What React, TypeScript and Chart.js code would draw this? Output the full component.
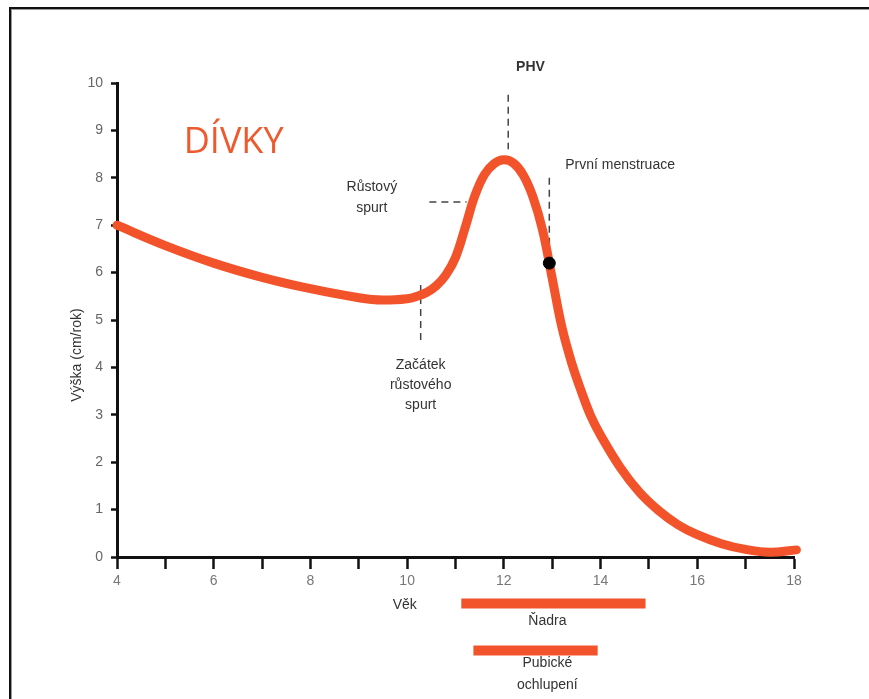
import React, { useEffect, useRef } from "react";
import { Chart, registerables } from "chart.js";

Chart.register(...registerables);

// Growth velocity curve (girls)
const ages = [4, 5, 6, 7, 8, 9, 9.5, 10, 10.2, 10.4, 10.6, 10.8, 11.0, 11.2, 11.4, 11.6, 11.8, 12.0, 12.2, 12.4, 12.6, 12.8, 13.0, 13.2, 13.4, 13.6, 13.8, 14.0, 14.4, 14.8, 15.2, 15.6, 16.0, 16.5, 17.0, 17.5, 18.05];
const rates = [7.0, 6.57, 6.2, 5.9, 5.66, 5.47, 5.42, 5.45, 5.5, 5.58, 5.72, 5.95, 6.32, 6.95, 7.62, 8.07, 8.3, 8.38, 8.31, 8.06, 7.6, 6.9, 5.88, 4.85, 4.1, 3.5, 2.97, 2.57, 1.9, 1.37, 0.98, 0.68, 0.47, 0.28, 0.16, 0.1, 0.15];

// Menarche marker
const menarche = { x: 12.94, y: 6.2 };

// Dashed guide lines [x1, y1, x2, y2]
const phvLine = [12.09, 9.75, 12.09, 8.6];
const spurtLine = [10.46, 7.49, 11.23, 7.49];
const menarcheLine = [12.94, 8.0, 12.94, 6.55];
const onsetLine = [10.28, 5.74, 10.28, 4.47];

// Development ranges below the axis [start, end, level]
const breastRange = [11.12, 14.93, -0.98];
const pubicRange = [11.37, 13.94, -1.97];

// Y ticks and x ticks
const yTicks = [0, 1, 2, 3, 4, 5, 6, 7, 8, 9, 10];
const xMin = 4;
const xMax = 18;

// Text annotations: [text, x, y, align]
const annotationTexts: [string, number, number, string][] = [
  ["PHV", 12.55, 10.34, "center"],
  ["Růstový", 9.27, 7.8, "center"],
  ["spurt", 9.27, 7.37, "center"],
  ["První menstruace", 13.27, 8.27, "left"],
  ["Začátek", 10.28, 4.05, "center"],
  ["růstového", 10.28, 3.63, "center"],
  ["spurt", 10.28, 3.2, "center"],
  ["Věk", 9.95, -1.01, "center"],
  ["Ňadra", 12.9, -1.35, "center"],
  ["Pubické", 12.9, -2.24, "center"],
  ["ochlupení", 12.9, -2.7, "center"],
];
const titleText = ["DÍVKY", 5.38, 8.75];
const yTitle = "Výška (cm/rok)";

const ORANGE = "#f2532a";

const seg = (l: number[]) => [
  { x: l[0], y: l[1] },
  { x: l[2], y: l[3] },
];

export default function App() {
  const ref = useRef<HTMLCanvasElement>(null);
  useEffect(() => {
    if (!ref.current) return;
    const textPlugin = {
      id: "texts",
      afterDraw(chart: any) {
        const { ctx, scales } = chart;
        const xs = scales.x;
        const ys = scales.y;
        ctx.save();
        ctx.textBaseline = "middle";
        ctx.fillStyle = "#333";
        for (const [t, x, y, a] of annotationTexts) {
          ctx.font = t === "PHV" ? "bold 14px 'Liberation Sans', Arial, sans-serif" : "14px 'Liberation Sans', Arial, sans-serif";
          ctx.textAlign = a;
          ctx.fillText(t, xs.getPixelForValue(x), ys.getPixelForValue(y));
        }
        ctx.font = "36px 'Open Sans', sans-serif";
        ctx.fillStyle = "#ee5a2e";
        ctx.textAlign = "left";
        ctx.fillText(titleText[0] as string, xs.getPixelForValue(titleText[1] as number), ys.getPixelForValue(titleText[2] as number));
        // y axis title
        ctx.fillStyle = "#333";
        ctx.font = "14px 'Liberation Sans', Arial, sans-serif";
        ctx.textAlign = "center";
        ctx.translate(chart.chartArea.left - 40, ys.getPixelForValue(4.26));
        ctx.rotate(-Math.PI / 2);
        ctx.fillText(yTitle, 0, 0);
        ctx.restore();
      },
    };
    const dashed = (l: number[]) => ({
      data: seg(l),
      borderColor: "#444",
      borderWidth: 1.5,
      borderDash: [7, 5],
      pointRadius: 0,
      clip: false,
      order: 3,
    });
    const range = (r: number[]) => ({
      data: [
        { x: r[0], y: r[2] },
        { x: r[1], y: r[2] },
      ],
      borderColor: ORANGE,
      borderWidth: 10,
      borderCapStyle: "butt",
      pointRadius: 0,
      clip: false,
      order: 4,
    });
    const chart = new Chart(ref.current, {
      type: "line",
      data: {
        datasets: [
          {
            data: [menarche],
            showLine: false,
            pointRadius: 6,
            pointBackgroundColor: "#000",
            pointBorderColor: "#000",
            clip: false,
            order: 0,
          } as any,
          {
            data: ages.map((x, i) => ({ x, y: rates[i] })),
            borderColor: ORANGE,
            borderWidth: 9,
            borderCapStyle: "round",
            borderJoinStyle: "round",
            tension: 0.4,
            pointRadius: 0,
            clip: false,
            order: 1,
          },
          dashed(phvLine),
          dashed(spurtLine),
          dashed(menarcheLine),
          dashed(onsetLine),
          range(breastRange),
          range(pubicRange),
        ] as any,
      },
      options: {
        responsive: false,
        animation: false,
        events: [],
        layout: { padding: { top: 83, right: 75, bottom: 0, left: 0 } },
        plugins: { legend: { display: false }, tooltip: { enabled: false } },
        scales: {
          x: {
            type: "linear",
            min: xMin,
            max: xMax,
            afterFit: (s: any) => {
              s.height = 142;
            },
            ticks: {
              stepSize: 1,
              color: "#777",
              padding: 4,
              font: { size: 14, family: "'Liberation Sans', Arial, sans-serif" },
              callback: (v: any) => (Number(v) % 2 === 0 ? String(v) : ""),
              maxRotation: 0,
              autoSkip: false,
            },
            grid: {
              drawOnChartArea: false,
              drawTicks: true,
              tickLength: 12,
              tickColor: "#111",
              tickWidth: 2.5,
            },
            border: { display: true, color: "#111", width: 3 },
          },
          y: {
            type: "linear",
            min: 0,
            max: 10,
            afterFit: (s: any) => {
              s.width = 117;
            },
            afterBuildTicks: (s: any) => {
              s.ticks = yTicks.map((v) => ({ value: v }));
            },
            ticks: {
              color: "#666",
              padding: 8,
              font: { size: 14, family: "'Liberation Sans', Arial, sans-serif" },
            },
            grid: {
              drawOnChartArea: false,
              drawTicks: true,
              tickLength: 6,
              tickColor: "#111",
              tickWidth: 2.5,
            },
            border: { display: true, color: "#111", width: 3 },
          },
        },
      } as any,
      plugins: [textPlugin],
    });
    return () => chart.destroy();
  }, []);
  return (
    <div style={{ position: "fixed", left: 0, top: 0, width: 869, height: 699, background: "#fff", overflow: "hidden" }}>
      <canvas ref={ref} width={869} height={699} style={{ position: "absolute", left: 0, top: 0 }} />
      <div
        style={{
          position: "absolute",
          left: 9,
          top: 7,
          right: -10,
          bottom: -10,
          borderTop: "2px solid #111",
          borderLeft: "2px solid #111",
          boxShadow: "inset 1px 1px 0 #999",
          pointerEvents: "none",
        }}
      />
    </div>
  );
}
